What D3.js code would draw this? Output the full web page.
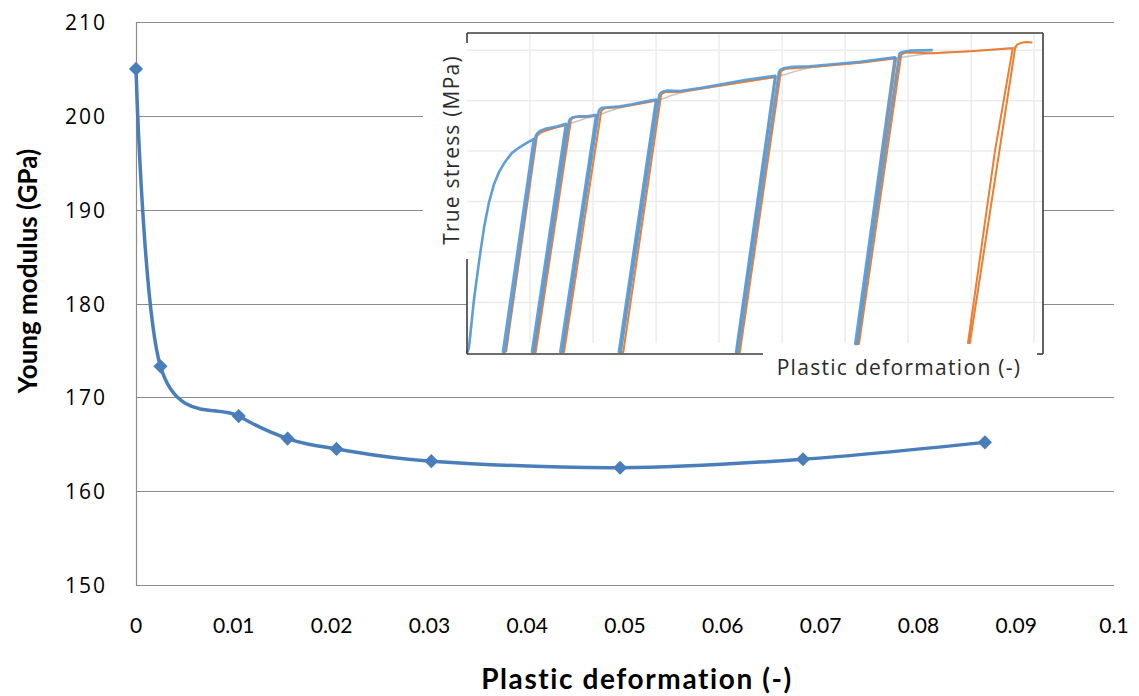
<!DOCTYPE html>
<html>
<head>
<meta charset="utf-8">
<script src="https://cdn.jsdelivr.net/npm/d3@7"></script>
<style>
  body { margin: 0; background: #fff; }
  svg { display: block; }
</style>
</head>
<body>
<div id="graf"></div>
<script>
// main chart data
const deformacion = [0, 0.0025, 0.0105, 0.0155, 0.0205, 0.0302, 0.0495, 0.0682, 0.0868]
const modulo = [205, 173.3, 168.0, 165.6, 164.5, 163.2, 162.5, 163.4, 165.2]
const ticksY = [150, 160, 170, 180, 190, 200, 210]
const ticksX = [0, 0.01, 0.02, 0.03, 0.04, 0.05, 0.06, 0.07, 0.08, 0.09, 0.1]
const etiquetasX = ["0", "0.01", "0.02", "0.03", "0.04", "0.05", "0.06", "0.07", "0.08", "0.09", "0.1"]

// inset (true stress vs plastic deformation)
const azulStrain = [0, 0.0003, 0.0011, 0.0019, 0.0027, 0.0035, 0.0043, 0.0051, 0.0060, 0.0071, 0.0084, 0.0097, 0.0106,
  0.0057, 0.0060, 0.0109, 0.0112, 0.0116, 0.0124, 0.0140, 0.0157,
  0.0103, 0.0106, 0.0162, 0.0164, 0.0168, 0.0178, 0.0192, 0.0205,
  0.0148, 0.0151, 0.0209, 0.0211, 0.0215, 0.0225, 0.0243, 0.0262, 0.0282, 0.0300,
  0.0241, 0.0244, 0.0305, 0.0307, 0.0311, 0.0319, 0.0338, 0.0370, 0.0397, 0.0441, 0.0489,
  0.0427, 0.0430, 0.0495, 0.0497, 0.0502, 0.0516, 0.0544, 0.0571, 0.0624, 0.0679,
  0.0616, 0.0619, 0.0686, 0.0688, 0.0693, 0.0703, 0.0739]
const azulStress = [0, 10, 105, 180, 248, 299, 335, 359, 378, 396, 408, 418, 424,
  2, 2, 430, 436, 440, 444, 448, 454,
  2, 2, 460, 464, 467, 469, 469, 472,
  2, 2, 479, 483, 486, 487, 489, 493, 498, 502,
  2, 2, 511, 515, 518, 520, 519, 525, 531, 541, 549,
  2, 2, 557, 561, 564, 567, 568, 571, 577, 586,
  18, 18, 592, 595, 597, 599, 600]

const naranjaStrain = [0.0062, 0.0111, 0.0114, 0.0118, 0.0140, 0.0159,
  0.0106, 0.0109, 0.0165, 0.0167, 0.0171, 0.0192, 0.0206,
  0.0151, 0.0154, 0.0213, 0.0215, 0.0219, 0.0243, 0.0282, 0.0301,
  0.0243, 0.0248, 0.0308, 0.0310, 0.0314, 0.0338, 0.0397, 0.0490,
  0.0428, 0.0433, 0.0498, 0.0500, 0.0506, 0.0544, 0.0624, 0.0681,
  0.0619, 0.0622, 0.0689, 0.0691, 0.0696, 0.0711, 0.0739, 0.0798, 0.0866,
  0.0838, 0.0795, 0.0798, 0.0845, 0.0870, 0.0873, 0.0878, 0.0887, 0.0897]
const naranjaStress = [2, 430, 435, 438, 446, 452,
  2, 2, 462, 465, 467, 468, 470,
  2, 2, 479, 482, 485, 487, 496, 500,
  2, 2, 511, 514, 517, 517, 529, 547,
  2, 2, 557, 560, 563, 566, 575, 584,
  18, 18, 590, 593, 595, 595, 594, 598, 604,
  402, 20, 20, 402, 606, 611, 614, 616, 615]

const grisStrain = [0, 0.0003, 0.0011, 0.0019, 0.0027, 0.0035, 0.0043, 0.0051, 0.0060, 0.0071, 0.0084, 0.0097, 0.0106,
  0.0124, 0.0157, 0.0192, 0.0205, 0.0243, 0.0300, 0.0338, 0.0397, 0.0489, 0.0544, 0.0624, 0.0679, 0.0739, 0.0798, 0.0874]
const grisStress = [0, 10, 105, 180, 248, 299, 335, 359, 378, 396, 408, 418, 424,
  440, 452, 466, 470, 486, 500, 515, 528, 547, 565, 575, 584, 594, 598, 606]

const gridInsetY = [100, 200, 300, 400, 500, 600]
const gridInsetX = [0.01, 0.02, 0.03, 0.04, 0.05, 0.06, 0.07, 0.08, 0.09]

const ancho = 1139
const alto = 696

const svg = d3.select("#graf")
  .append("svg")
  .attr("width", ancho)
  .attr("height", alto)

svg.append("rect").attr("width", ancho).attr("height", alto).attr("fill", "#fff")

const x = d3.scaleLinear().domain([0, 0.1]).range([136, 1114])
const y = d3.scaleLinear().domain([150, 210]).range([585, 22])

// gridlines
svg.append("g")
  .selectAll("line")
  .data(ticksY)
  .join("line")
  .attr("x1", x(0))
  .attr("x2", x(0.1))
  .attr("y1", (d) => Math.round(y(d)) + 0.5)
  .attr("y2", (d) => Math.round(y(d)) + 0.5)
  .attr("stroke", "#8c8c8c")
  .attr("stroke-width", 1.2)

svg.append("line")
  .attr("x1", x(0) + 0.5).attr("x2", x(0) + 0.5)
  .attr("y1", y(210)).attr("y2", y(150) + 0.5)
  .attr("stroke", "#8c8c8c").attr("stroke-width", 1.2)

// tick labels
svg.append("g")
  .selectAll("text")
  .data(ticksY)
  .join("text")
  .attr("x", 107)
  .attr("y", (d) => y(d) + 8)
  .attr("text-anchor", "end")
  .attr("font-family", "'Open Sans', sans-serif")
  .attr("font-size", 21)
  .attr("letter-spacing", 2)
  .attr("fill", "#000")
  .text((d) => d)

svg.append("g")
  .selectAll("text")
  .data(ticksX)
  .join("text")
  .attr("x", (d) => x(d))
  .attr("y", 633)
  .attr("text-anchor", "middle")
  .attr("font-family", "Lato, sans-serif")
  .attr("font-size", 21)
  .attr("fill", "#000")
  .text((d, i) => etiquetasX[i])

// axis titles
svg.append("text")
  .attr("transform", "translate(37,271) rotate(-90)")
  .attr("text-anchor", "middle")
  .attr("font-family", "Lato, sans-serif")
  .attr("font-weight", "bold")
  .attr("font-size", 26)
  .text("Young modulus (GPa)")

svg.append("text")
  .attr("x", 637)
  .attr("y", 689)
  .attr("text-anchor", "middle")
  .attr("font-family", "Lato, sans-serif")
  .attr("font-weight", "bold")
  .attr("font-size", 28)
  .attr("letter-spacing", 1.6)
  .text("Plastic deformation (-)")

// ---- inset ----
const ix = d3.scaleLinear().domain([0, 0.0914]).range([467, 1043])
const iy = d3.scaleLinear().domain([0, 634]).range([353, 33])

const inset = svg.append("g")

inset.append("rect").attr("x", 423).attr("y", 40).attr("width", 46).attr("height", 216).attr("fill", "#fff")
inset.append("rect").attr("x", 467).attr("y", 26).attr("width", 576).attr("height", 362).attr("fill", "#fff")

inset.append("g")
  .selectAll("line")
  .data(gridInsetY)
  .join("line")
  .attr("x1", ix(0)).attr("x2", ix(0.0914))
  .attr("y1", (d) => iy(d)).attr("y2", (d) => iy(d))
  .attr("stroke", "#ececec").attr("stroke-width", 1.5)

inset.append("g")
  .selectAll("line")
  .data(gridInsetX)
  .join("line")
  .attr("x1", (d) => ix(d)).attr("x2", (d) => ix(d))
  .attr("y1", iy(634)).attr("y2", iy(20))
  .attr("stroke", "#ececec").attr("stroke-width", 1.5)

const lineaInset = d3.line()
  .x((d) => ix(d[0]))
  .y((d) => iy(d[1]))

inset.append("path")
  .datum(d3.zip(grisStrain, grisStress))
  .attr("d", lineaInset.curve(d3.curveCatmullRom.alpha(0.5)))
  .attr("fill", "none")
  .attr("stroke", "#c4c4c4")
  .attr("stroke-width", 1.5)

lineaInset.curve(d3.curveLinear)

inset.append("path")
  .datum(d3.zip(naranjaStrain, naranjaStress))
  .attr("d", lineaInset)
  .attr("fill", "none")
  .attr("stroke", "#ed7d31")
  .attr("stroke-width", 2)
  .attr("stroke-linejoin", "round")

inset.append("path")
  .datum(d3.zip(azulStrain, azulStress))
  .attr("d", lineaInset)
  .attr("fill", "none")
  .attr("stroke", "#5b9bd5")
  .attr("stroke-width", 2.6)
  .attr("stroke-linejoin", "round")
  .attr("stroke-opacity", 0.95)

// frame of the inset
const marco = [
  [467, 33, 1043, 33],
  [1043, 33, 1043, 354],
  [467, 33, 467, 43],
  [467, 259, 467, 354],
  [467, 354, 763, 354],
  [1037, 354, 1043, 354],
]
inset.append("g")
  .selectAll("line")
  .data(marco)
  .join("line")
  .attr("x1", (d) => d[0]).attr("y1", (d) => d[1])
  .attr("x2", (d) => d[2]).attr("y2", (d) => d[3])
  .attr("stroke", "#3c3c3c").attr("stroke-width", 1.6)

inset.append("text")
  .attr("transform", "translate(459,150) rotate(-90)")
  .attr("text-anchor", "middle")
  .attr("font-family", "'Open Sans', sans-serif")
  .attr("font-size", 21)
  .attr("letter-spacing", 1.2)
  .attr("fill", "#2b2b2b")
  .text("True stress (MPa)")

inset.append("text")
  .attr("x", 899)
  .attr("y", 375)
  .attr("text-anchor", "middle")
  .attr("font-family", "'Open Sans', sans-serif")
  .attr("font-size", 21)
  .attr("letter-spacing", 1.3)
  .attr("fill", "#2b2b2b")
  .text("Plastic deformation (-)")

// ---- main curve ----
const puntos = d3.zip(deformacion, modulo)

svg.append("path")
  .datum(puntos)
  .attr("d", d3.line()
    .x((d) => x(d[0]))
    .y((d) => y(d[1]))
    .curve(d3.curveCardinal.tension(0)))
  .attr("fill", "none")
  .attr("stroke", "#4a7ebb")
  .attr("stroke-width", 3.5)

svg.append("g")
  .selectAll("path")
  .data(puntos)
  .join("path")
  .attr("d", d3.symbol().type(d3.symbolSquare).size(100))
  .attr("transform", (d) => `translate(${x(d[0])},${y(d[1])}) rotate(45)`)
  .attr("fill", "#4a7ebb")
</script>
</body>
</html>
